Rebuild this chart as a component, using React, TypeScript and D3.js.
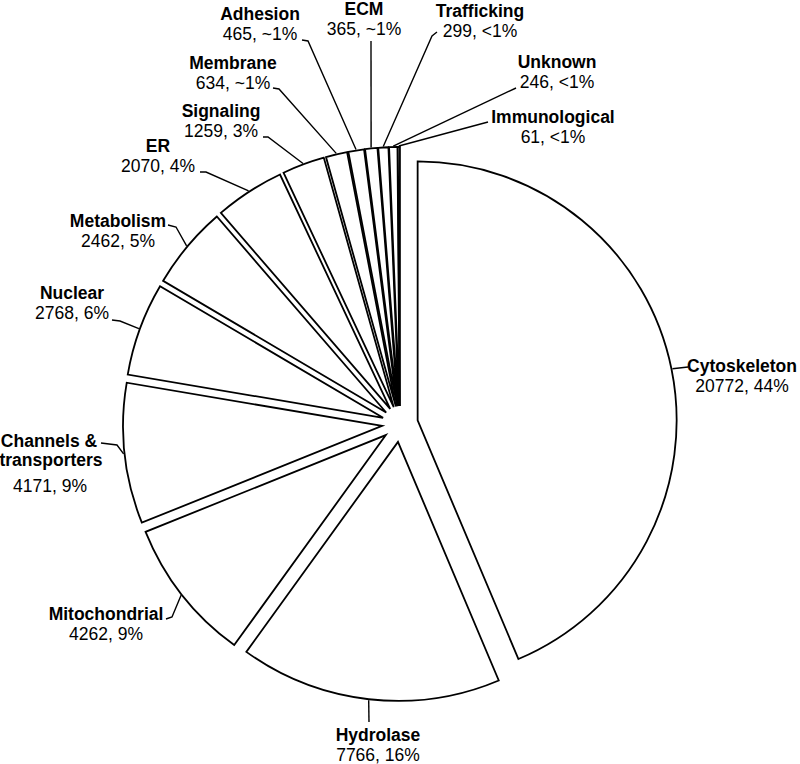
import React from "react";
import * as d3 from "d3";

// ---- data ----
const categories = [
  "Cytoskeleton", "Hydrolase", "Mitochondrial", "Channels & transporters", "Nuclear",
  "Metabolism", "ER", "Signaling", "Membrane", "Adhesion", "ECM", "Trafficking",
  "Unknown", "Immunological",
];
const counts = [20772, 7766, 4262, 4171, 2768, 2462, 2070, 1259, 634, 465, 365, 299, 246, 61];
const percentLabels = ["44%", "16%", "9%", "9%", "6%", "5%", "4%", "3%", "~1%", "~1%", "~1%", "<1%", "<1%", "<1%"];

// ---- layout (label placement) ----
type Lab = { x: number; y: number; lines?: string[]; lineXs?: number[]; start: [number, number]; elbow?: [number, number] };
const labelLayout: Lab[] = [
  { x: 742, y: 372, start: [688, 367] },
  { x: 378, y: 741, start: [369, 722] },
  { x: 106, y: 620, start: [166, 619], elbow: [172, 617] },
  { x: 50, y: 447, lines: ["Channels &", "transporters"], lineXs: [49, 51], start: [101, 443], elbow: [117, 445] },
  { x: 72, y: 299, start: [112, 320], elbow: [120, 321] },
  { x: 118, y: 227, start: [168, 225], elbow: [176, 227] },
  { x: 158, y: 152, start: [200, 172], elbow: [206, 172] },
  { x: 221, y: 117, start: [263, 137], elbow: [268, 137] },
  { x: 233, y: 69, start: [273, 88], elbow: [279, 89] },
  { x: 260, y: 20, start: [302, 40], elbow: [308, 41] },
  { x: 364, y: 15, start: [371, 41] },
  { x: 480, y: 17, start: [437, 32], elbow: [432, 36] },
  { x: 557, y: 68, start: [516, 88] },
  { x: 553, y: 123, start: [488, 122] },
];

const W = 800, H = 764;
const cx = 400, cy = 424;
const R = 259;
const explode = 18;
const fontFamily = "'Liberation Sans', Arial, Helvetica, sans-serif";
const fs = 17.5;

export default function App() {
  const pie = d3.pie<number>().sort(null).value((d) => d).startAngle(0).endAngle(2 * Math.PI);
  const arcs = pie(counts);
  const arcGen = d3.arc<d3.PieArcDatum<number>>().innerRadius(0).outerRadius(R);

  return (
    <svg width={W} height={H} style={{ position: "absolute", left: 0, top: 0, background: "#fff" }}>
      <g>
        {arcs.map((a, i) => {
          const mid = (a.startAngle + a.endAngle) / 2;
          const ox = Math.sin(mid) * explode;
          const oy = -Math.cos(mid) * explode;
          return (
            <path
              key={i}
              d={arcGen(a) || ""}
              transform={`translate(${cx + ox},${cy + oy})`}
              fill="#fff"
              stroke="#000"
              strokeWidth={1.8}
              strokeLinejoin="miter"
            />
          );
        })}
      </g>
      <g>
        {arcs.map((a, i) => {
          const mid = (a.startAngle + a.endAngle) / 2;
          const rr = R + explode + 1;
          const ex = cx + Math.sin(mid) * rr;
          const ey = cy - Math.cos(mid) * rr;
          const L = labelLayout[i];
          const pts: [number, number][] = [L.start];
          if (L.elbow) pts.push(L.elbow);
          pts.push([ex, ey]);
          const line = d3.line()(pts) || "";
          return <path key={i} d={line} fill="none" stroke="#000" strokeWidth={1.4} />;
        })}
      </g>
      <g fontFamily={fontFamily} fontSize={fs} fill="#000" textAnchor="middle">
        {categories.map((c, i) => {
          const L = labelLayout[i];
          const lines = L.lines || [c];
          const xs = L.lineXs || lines.map(() => L.x);
          const valueY = L.y + (lines.length - 1) * 19 + (lines.length > 1 ? 26 : 20);
          return (
            <g key={c}>
              {lines.map((ln, j) => (
                <text key={j} x={xs[j]} y={L.y + j * 19} fontWeight="bold">
                  {ln}
                </text>
              ))}
              <text x={L.x} y={valueY}>
                {`${counts[i]}, ${percentLabels[i]}`}
              </text>
            </g>
          );
        })}
      </g>
    </svg>
  );
}
